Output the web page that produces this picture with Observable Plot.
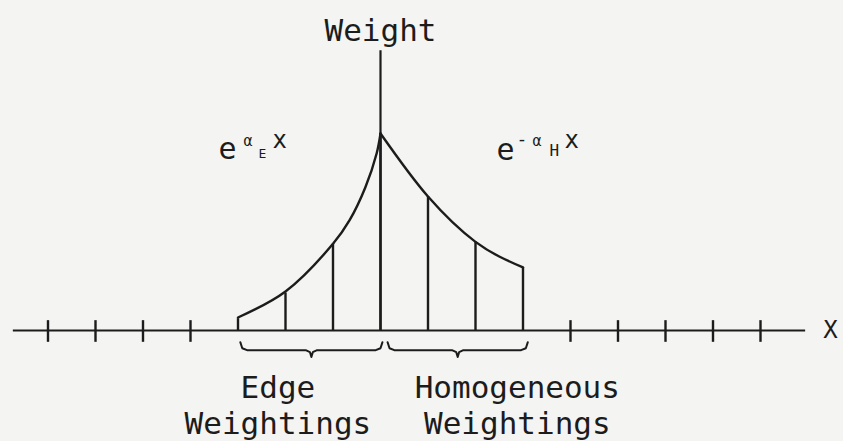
<!DOCTYPE html>
<html>
<head>
<meta charset="utf-8">
<script src="https://cdn.jsdelivr.net/npm/d3@7"></script>
<script src="https://cdn.jsdelivr.net/npm/@observablehq/plot@0.6"></script>
<style>
  html, body { margin: 0; padding: 0; background: #f4f4f2; }
  svg { display: block; }
</style>
</head>
<body>
<div id="chart"></div>
<script>
// ---- data (x in grid units, weight relative to the peak) ----
const gridTicks = [-7, -6, -5, -4, 4, 5, 6, 7, 8];
const sampleX = [-3, -2, -1, 0, 1, 2, 3];
const sampleW = [0.06, 0.19, 0.44, 1.0, 0.68, 0.45, 0.32];
const edgeCurveX = [-3, -2, -1, -0.65, -0.32, -0.08, 0];
const edgeCurveW = [0.066, 0.198, 0.44, 0.56, 0.726, 0.9, 1.0];
const homCurveX = [0, 1, 2, 3];
const homCurveW = [1.0, 0.68, 0.45, 0.32];
const braceNames = ["Edge\nWeightings", "Homogeneous\nWeightings"];
const braceFrom = [-2.95, 0.15];
const braceTo = [0.04, 3.1];
const braceLabelX = [-2.16, 2.88];

// ---- tables built from the arrays ----
const samples = sampleX.map((x, i) => ({x, w: sampleW[i]}));
const edgeCurve = edgeCurveX.map((x, i) => ({x, w: edgeCurveW[i]}));
const homCurve = homCurveX.map((x, i) => ({x, w: homCurveW[i]}));
const braces = braceNames.map((name, i) => ({name, a: braceFrom[i], b: braceTo[i],
  m: (braceFrom[i] + braceTo[i]) / 2, lx: braceLabelX[i]}));
const bracePts = braces.flatMap(({name, a, b, m}) => [
  [a, -0.06], [a + 0.04, -0.09], [a + 0.14, -0.10],
  [m - 0.12, -0.10], [m - 0.03, -0.11], [m, -0.135], [m + 0.03, -0.11], [m + 0.12, -0.10],
  [b - 0.14, -0.10], [b - 0.04, -0.09], [b, -0.06]
].map(([x, w]) => ({name, x, w})));

const ink = "#1c1c1c";
const font = "DejaVu Sans Mono";

const piece = (t, x, w, size) =>
  Plot.text([t], {x: () => x, y: () => w, text: d => d, fontSize: size, textAnchor: "start",
                  lineAnchor: "bottom", fill: ink, fontFamily: font});

const chart = Plot.plot({
  width: 843,
  height: 441,
  marginTop: 0, marginBottom: 0, marginLeft: 0, marginRight: 0,
  style: {background: "#f4f4f2", fontFamily: font},
  x: {domain: [-8, 843 / 47.5 - 8], axis: null},
  y: {domain: [(330 - 441) / 197, 330 / 197], axis: null},
  marks: [
    // x axis line and ticks
    Plot.ruleY([0], {x1: -7.73, x2: 8.95, stroke: ink, strokeWidth: 2.2}),
    Plot.ruleX(gridTicks, {y1: -0.06, y2: 0.05, stroke: ink, strokeWidth: 2.4}),
    // weight axis
    Plot.ruleX([0], {y1: 0, y2: 1.42, stroke: ink, strokeWidth: 2.2}),
    // sample verticals
    Plot.ruleX(samples, {x: "x", y1: 0, y2: "w", stroke: ink, strokeWidth: 2.4}),
    // curves
    Plot.line(edgeCurve, {x: "x", y: "w", curve: "catmull-rom", stroke: ink, strokeWidth: 2.4}),
    Plot.line(homCurve, {x: "x", y: "w", curve: "monotone-x", stroke: ink, strokeWidth: 2.4}),
    // braces
    Plot.line(bracePts, {x: "x", y: "w", z: "name", stroke: ink, strokeWidth: 2, strokeLinejoin: "round"}),
    // brace labels
    Plot.text(braces, {x: "lx", y: () => -0.213, text: "name", fontSize: 31, lineAnchor: "top",
                       lineHeight: 1.16, fill: ink, fontFamily: font}),
    // axis labels
    Plot.text(["Weight"], {x: () => 0, y: () => 1.472, text: d => d, fontSize: 31, lineAnchor: "bottom",
                           fill: ink, fontFamily: font}),
    Plot.text(["X"], {x: () => 9.474, y: () => 0, text: d => d, fontSize: 24, fill: ink, fontFamily: font}),
    // formula e^{αE x}
    piece("e", -3.41, 0.873, 30),
    piece("α", -2.884, 0.939, 15),
    piece("E", -2.568, 0.878, 13),
    piece("x", -2.274, 0.924, 24),
    // formula e^{-αH x}
    piece("e", 2.442, 0.868, 30),
    piece("-", 2.863, 0.944, 18),
    piece("α", 3.2, 0.939, 15),
    piece("H", 3.558, 0.888, 16),
    piece("x", 3.874, 0.924, 24)
  ]
});
document.getElementById("chart").append(chart);
</script>
</body>
</html>
